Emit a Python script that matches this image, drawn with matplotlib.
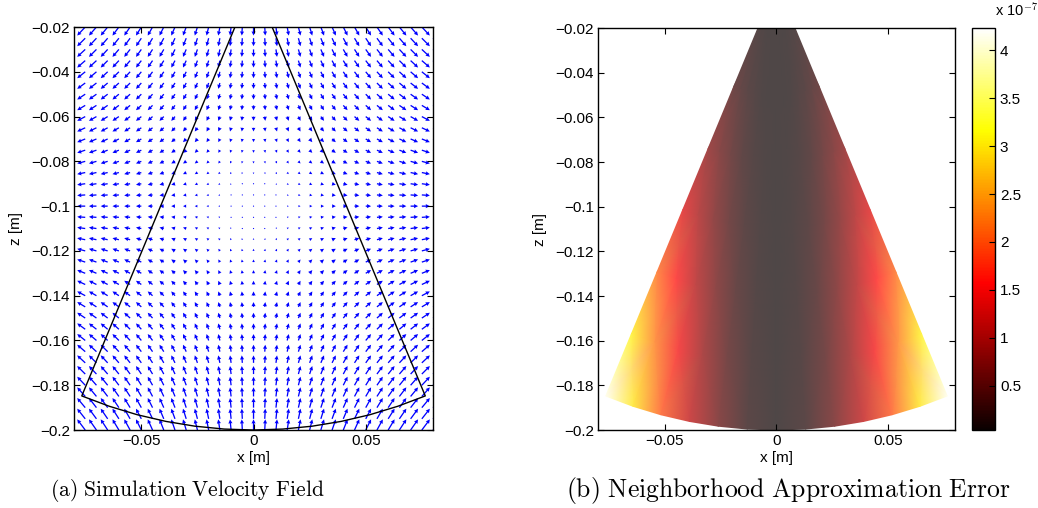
import numpy as np
import matplotlib
matplotlib.use("Agg")
import matplotlib.pyplot as plt
from matplotlib.colors import ListedColormap

plt.rcParams['font.family'] = ['Liberation Sans', 'DejaVu Sans']
plt.rcParams['mathtext.fontset'] = 'cm'

# ---- velocity field (left) ----
# quiver sample grid (m)
x_samples = np.arange(-0.08, 0.0801, 0.005)
z_samples = np.arange(-0.20, -0.0199, 0.005)
# horizontal component, one value per column (left -> right)
u_col = [-0.080, -0.075, -0.070, -0.065, -0.060, -0.055, -0.050, -0.045,
         -0.040, -0.035, -0.030, -0.025, -0.020, -0.015, -0.010, -0.005,
         0.000, 0.005, 0.010, 0.015, 0.020, 0.025, 0.030, 0.035,
         0.040, 0.045, 0.050, 0.055, 0.060, 0.065, 0.070, 0.075, 0.080]
# vertical component, one value per row (bottom -> top)
w_row = [0.100, 0.095, 0.090, 0.085, 0.080, 0.075, 0.070, 0.065,
         0.060, 0.055, 0.050, 0.045, 0.040, 0.035, 0.030, 0.025,
         0.020, 0.015, 0.010, 0.005, 0.000, -0.005, -0.010, -0.015,
         -0.020, -0.025, -0.030, -0.035, -0.040, -0.045, -0.050, -0.055,
         -0.060, -0.065, -0.070, -0.075, -0.080]

# ---- imaging sector + approximation error (right) ----
sector_deg = [-22.5, -18.75, -15.0, -11.25, -7.5, -3.75, 0.0,
              3.75, 7.5, 11.25, 15.0, 18.75, 22.5]
sector_r = [0.02, 0.05, 0.08, 0.11, 0.14, 0.17, 0.20]
# error in units of 1e-7, rows = radius, cols = angle
err_e7 = [
    [0.08, 0.07, 0.06, 0.05, 0.05, 0.05, 0.05, 0.05, 0.05, 0.05, 0.06, 0.07, 0.08],
    [0.32, 0.24, 0.17, 0.11, 0.07, 0.05, 0.05, 0.05, 0.07, 0.11, 0.17, 0.24, 0.32],
    [0.75, 0.55, 0.37, 0.22, 0.11, 0.06, 0.05, 0.06, 0.11, 0.22, 0.37, 0.55, 0.75],
    [1.35, 1.00, 0.66, 0.38, 0.18, 0.08, 0.05, 0.08, 0.18, 0.38, 0.66, 1.00, 1.35],
    [2.15, 1.58, 1.05, 0.60, 0.28, 0.10, 0.05, 0.10, 0.28, 0.60, 1.05, 1.58, 2.15],
    [3.10, 2.25, 1.50, 0.86, 0.40, 0.13, 0.05, 0.13, 0.40, 0.86, 1.50, 2.25, 3.10],
    [4.15, 3.00, 2.00, 1.15, 0.55, 0.16, 0.05, 0.16, 0.55, 1.15, 2.00, 3.00, 4.15],
]
cbar_ticks = [0.5, 1, 1.5, 2, 2.5, 3, 3.5, 4]
cbar_labels = ['0.5', '1', '1.5', '2', '2.5', '3', '3.5', '4']
err_min, err_max = 0.04, 4.23

th = np.radians(sector_deg)
R, TH = np.meshgrid(sector_r, th, indexing='ij')
SX = R * np.sin(TH)
SZ = -R * np.cos(TH)

# semi-transparent look of the surface, baked into the colormap
hot = plt.get_cmap('hot')(np.linspace(0, 1, 256))
faded = hot.copy()
faded[:, :3] = 0.72 * hot[:, :3] + 0.28
faded_hot = ListedColormap(faded)

fig = plt.figure(figsize=(10.38, 5.08), dpi=100)
ax1 = fig.add_axes([0.0713, 0.1535, 0.3459, 0.7933])
ax2 = fig.add_axes([0.5761, 0.1535, 0.3439, 0.7913])
cax = fig.add_axes([0.9364, 0.1535, 0.0222, 0.7913])

# left panel
XX, ZZ = np.meshgrid(x_samples, z_samples)
U, W = np.meshgrid(u_col, w_row)
ax1.quiver(XX, ZZ, U, W, color='#0000ff', angles='xy', scale_units='xy',
           scale=21, width=0.0036, headwidth=3.2, headlength=3.2,
           headaxislength=3.0)
# sector outline
ox = np.concatenate([[0.0], SX[-1], [0.0]])
oz = np.concatenate([[0.0], SZ[-1], [0.0]])
ax1.plot(ox, oz, color='black', lw=1.0)

# right panel
ax2.pcolormesh(SX, SZ, np.array(err_e7), cmap=faded_hot, shading='gouraud',
               vmin=err_min, vmax=err_max, antialiased=False)
sm = plt.cm.ScalarMappable(cmap='hot', norm=plt.Normalize(err_min, err_max))
cb = fig.colorbar(sm, cax=cax, ticks=cbar_ticks)
cb.ax.set_yticklabels(cbar_labels)
cb.ax.tick_params(direction='in', length=4, labelsize=11, width=0.8)
cb.outline.set_linewidth(1.0)
fig.text(0.959, 0.963, r'x 10$^{-7}$', fontsize=10.5, ha='left', va='bottom')

for ax in (ax1, ax2):
    ax.set_xlim(-0.08, 0.08)
    ax.set_ylim(-0.2, -0.02)
    ax.set_xticks([-0.05, 0, 0.05])
    ax.set_xticklabels(['\u22120.05', '0', '0.05'])
    ax.set_yticks(np.arange(-0.2, -0.019, 0.02))
    ax.set_yticklabels(['\u22120.2', '\u22120.18', '\u22120.16', '\u22120.14',
                        '\u22120.12', '\u22120.1', '\u22120.08', '\u22120.06',
                        '\u22120.04', '\u22120.02'])
    ax.tick_params(direction='in', top=True, right=True, length=4,
                   labelsize=11, width=0.8, pad=3)
    ax.set_xlabel('x [m]', fontsize=11, labelpad=2)
    ax.set_ylabel('z [m]', fontsize=11, labelpad=6)
    for s in ax.spines.values():
        s.set_linewidth(1.0)

fig.text(0.18, 0.035, r'$\mathrm{(a)\ Simulation\ Velocity\ Field}$',
         fontsize=15.5, ha='center', va='center')
fig.text(0.759, 0.035, r'$\mathrm{(b)\ Neighborhood\ Approximation\ Error}$',
         fontsize=18.5, ha='center', va='center')

fig.savefig('out.png', dpi=100)
